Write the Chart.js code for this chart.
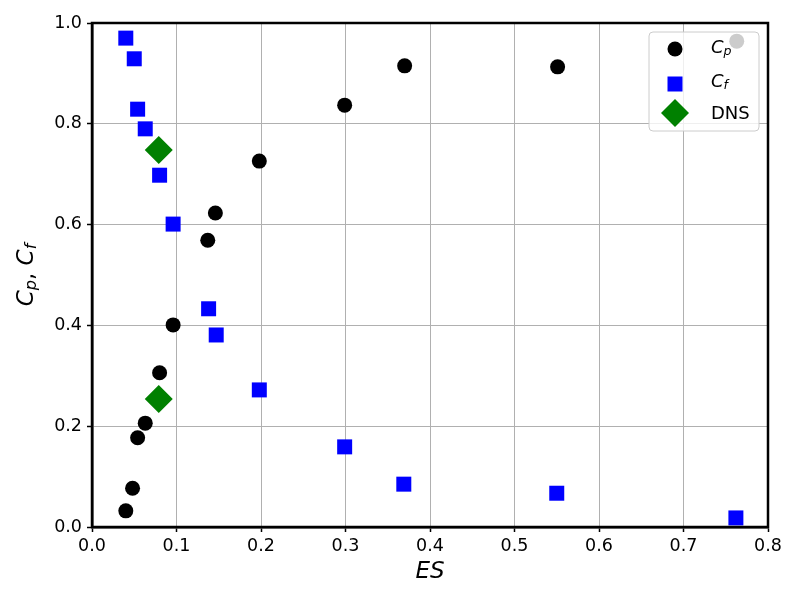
<!DOCTYPE html>
<html>
<head>
<meta charset="utf-8">
<script src="https://cdn.jsdelivr.net/npm/chart.js@4/dist/chart.umd.min.js"></script>
<style>
  html, body { margin: 0; padding: 0; background: #fff; }
  #wrap { width: 800px; height: 600px; }
</style>
</head>
<body>
<div id="wrap"><canvas id="myChart" width="800" height="600"></canvas></div>
<script>
  // values
  const cpES = [0.040, 0.048, 0.054, 0.063, 0.080, 0.096, 0.137, 0.146, 0.198, 0.299, 0.370, 0.551, 0.763]
  const cpVal = [0.032, 0.077, 0.177, 0.206, 0.306, 0.401, 0.569, 0.623, 0.726, 0.837, 0.915, 0.913, 0.964]
  const cfES = [0.040, 0.050, 0.054, 0.063, 0.080, 0.096, 0.138, 0.147, 0.198, 0.299, 0.369, 0.550, 0.762]
  const cfVal = [0.970, 0.929, 0.829, 0.790, 0.698, 0.601, 0.433, 0.381, 0.272, 0.159, 0.085, 0.067, 0.018]
  const dnsES = [0.079, 0.079]
  const dnsVal = [0.748, 0.254]
  const xTicks = [0.0, 0.1, 0.2, 0.3, 0.4, 0.5, 0.6, 0.7, 0.8]
  const yTicks = [0.0, 0.2, 0.4, 0.6, 0.8, 1.0]

  const toPts = (xs, ys) => xs.map((x, i) => ({ x: x, y: ys[i] }))

  const FONT = "'DejaVu Sans', sans-serif"

  // draws text runs like C_p with italics and subscripts
  const drawRuns = (ctx, runs, x, y, size) => {
    let cx = x
    runs.forEach(r => {
      const s = r.sub ? size * 0.7 : size
      ctx.font = (r.it ? 'italic ' : '') + s + 'px ' + FONT
      ctx.fillText(r.t, cx, r.sub ? y + size * 0.22 : y)
      cx += ctx.measureText(r.t).width
    })
    return cx - x
  }
  const runsWidth = (ctx, runs, size) => {
    let w = 0
    runs.forEach(r => {
      const s = r.sub ? size * 0.7 : size
      ctx.font = (r.it ? 'italic ' : '') + s + 'px ' + FONT
      w += ctx.measureText(r.t).width
    })
    return w
  }

  const drawMarker = (ctx, kind, x, y) => {
    ctx.save()
    ctx.beginPath()
    if (kind === 'circle') {
      ctx.fillStyle = '#000'
      ctx.arc(x, y, 7.5, 0, Math.PI * 2)
    } else if (kind === 'rect') {
      ctx.fillStyle = '#0000ff'
      ctx.rect(x - 7.5, y - 7.5, 15, 15)
    } else {
      ctx.fillStyle = '#008000'
      ctx.moveTo(x - 14, y); ctx.lineTo(x, y - 14); ctx.lineTo(x + 14, y); ctx.lineTo(x, y + 14); ctx.closePath()
    }
    ctx.fill()
    ctx.restore()
  }

  const decor = {
    id: 'decor',
    afterDraw(chart) {
      const ctx = chart.ctx
      const a = chart.chartArea
      ctx.save()
      // frame
      ctx.strokeStyle = '#000'
      ctx.lineWidth = 2.5
      ctx.strokeRect(a.left, a.top, a.right - a.left, a.bottom - a.top)

      // x label
      ctx.fillStyle = '#000'
      ctx.textBaseline = 'middle'
      ctx.textAlign = 'left'
      ctx.font = 'italic 23px ' + FONT
      const esW = ctx.measureText('ES').width
      ctx.fillText('ES', (a.left + a.right) / 2 - esW / 2, 572)

      // y label
      const yRuns = [{ t: 'C', it: true }, { t: 'p', it: true, sub: true }, { t: ', ', it: false }, { t: 'C', it: true }, { t: 'f', it: true, sub: true }]
      ctx.save()
      ctx.translate(27, (a.top + a.bottom) / 2)
      ctx.rotate(-Math.PI / 2)
      const w = runsWidth(ctx, yRuns, 23)
      drawRuns(ctx, yRuns, -w / 2, 0, 23)
      ctx.restore()

      // legend
      const lx = 649, ly = 32, lw = 110, lh = 99
      ctx.beginPath()
      ctx.roundRect(lx, ly, lw, lh, 4)
      ctx.fillStyle = 'rgba(255,255,255,0.8)'
      ctx.fill()
      ctx.strokeStyle = '#cccccc'
      ctx.lineWidth = 1
      ctx.stroke()

      drawMarker(ctx, 'circle', 675, 49)
      drawMarker(ctx, 'rect', 675, 84)
      drawMarker(ctx, 'diamond', 675, 113)
      ctx.fillStyle = '#000'
      ctx.textBaseline = 'middle'
      drawRuns(ctx, [{ t: 'C', it: true }, { t: 'p', it: true, sub: true }], 711, 48, 18)
      drawRuns(ctx, [{ t: 'C', it: true }, { t: 'f', it: true, sub: true }], 711, 82, 18)
      ctx.font = '18px ' + FONT
      ctx.fillText('DNS', 711, 114)
      ctx.restore()
    }
  }

  const ctx = document.getElementById('myChart')

  new Chart(ctx, {
    type: 'scatter',
    data: {
      datasets: [
        {
          label: 'DNS',
          data: toPts(dnsES, dnsVal),
          pointStyle: 'rectRot',
          pointRadius: 14,
          backgroundColor: '#008000',
          borderColor: '#008000',
          borderWidth: 0,
          order: 0
        },
        {
          label: 'Cf',
          data: toPts(cfES, cfVal),
          pointStyle: 'rect',
          pointRadius: 10.6,
          backgroundColor: '#0000ff',
          borderColor: '#0000ff',
          borderWidth: 0,
          order: 1
        },
        {
          label: 'Cp',
          data: toPts(cpES, cpVal),
          pointStyle: 'circle',
          pointRadius: 7.5,
          backgroundColor: '#000000',
          borderColor: '#000000',
          borderWidth: 0,
          order: 2
        }
      ]
    },
    options: {
      responsive: false,
      animation: false,
      events: [],
      layout: { padding: { top: 23, right: 32, left: 0, bottom: 0 } },
      plugins: {
        legend: { display: false },
        tooltip: { enabled: false }
      },
      scales: {
        x: {
          type: 'linear',
          min: 0,
          max: 0.8,
          afterFit: (s) => { s.height = 73 },
          afterBuildTicks: (s) => { s.ticks = xTicks.map(v => ({ value: v })) },
          grid: { color: '#b0b0b0', lineWidth: 1, tickColor: '#000', tickLength: 5, tickWidth: 1.5 },
          border: { color: '#000', width: 2.5 },
          ticks: {
            color: '#000',
            font: { family: FONT, size: 17.5 },
            padding: 4,
            maxRotation: 0,
            callback: (v) => Number(v).toFixed(1)
          }
        },
        y: {
          type: 'linear',
          min: 0,
          max: 1,
          afterFit: (s) => { s.width = 92 },
          afterBuildTicks: (s) => { s.ticks = yTicks.map(v => ({ value: v })) },
          grid: { color: '#b0b0b0', lineWidth: 1, tickColor: '#000', tickLength: 5, tickWidth: 1.5 },
          border: { color: '#000', width: 2.5 },
          ticks: {
            color: '#000',
            font: { family: FONT, size: 17.5 },
            padding: 5,
            callback: (v) => Number(v).toFixed(1)
          }
        }
      }
    },
    plugins: [decor]
  })
</script>
</body>
</html>
